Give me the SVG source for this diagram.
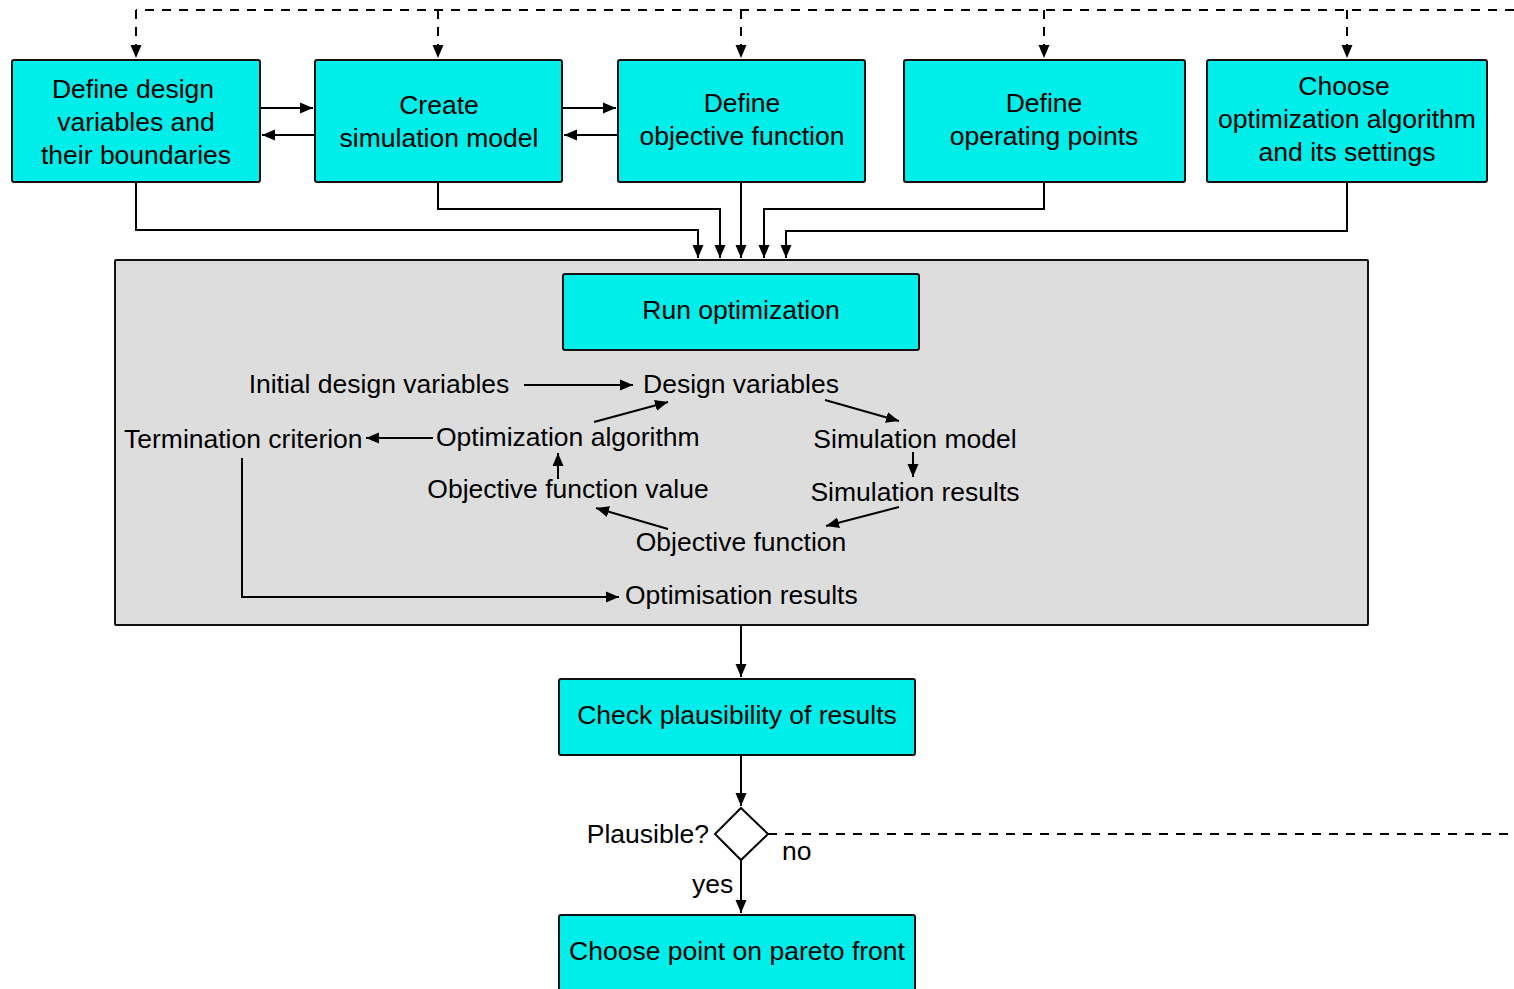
<svg xmlns="http://www.w3.org/2000/svg" width="1514" height="989" viewBox="0 0 1514 989">
<style>
.box{fill:#00EEEA;stroke:#111;stroke-width:2}
.t{font-family:"Liberation Sans",Arial,sans-serif;font-size:26.5px;fill:#000}
.c{text-anchor:middle}
.ln{fill:none;stroke:#000;stroke-width:2}
.dash{fill:none;stroke:#000;stroke-width:2;stroke-dasharray:9 8}
</style>
<defs>
<marker id="ah" markerUnits="userSpaceOnUse" markerWidth="14" markerHeight="12" refX="13" refY="6" orient="auto">
<path d="M0,0.5 L13,6 L0,11.5 z" fill="#000"/>
</marker>
</defs>
<rect width="1514" height="989" fill="#fff"/>

<g id="optimization-area">
<rect x="115" y="260" width="1253" height="365" fill="#DDDDDD" stroke="#111" stroke-width="2" rx="1"/>
</g>

<g id="n1"><rect class="box" x="12" y="60" width="248" height="122" rx="2"/>
<text class="t c" x="133" y="98">Define design</text><text class="t c" x="136" y="131">variables and</text><text class="t c" x="136" y="164">their boundaries</text></g>
<g id="n2"><rect class="box" x="315" y="60" width="247" height="122" rx="2"/>
<text class="t c" x="439" y="114">Create</text><text class="t c" x="439" y="147">simulation model</text></g>
<g id="n3"><rect class="box" x="618" y="60" width="247" height="122" rx="2"/>
<text class="t c" x="742" y="112">Define</text><text class="t c" x="742" y="145">objective function</text></g>
<g id="n4"><rect class="box" x="904" y="60" width="281" height="122" rx="2"/>
<text class="t c" x="1044" y="112">Define</text><text class="t c" x="1044" y="145">operating points</text></g>
<g id="n5"><rect class="box" x="1207" y="60" width="280" height="122" rx="2"/>
<text class="t c" x="1344" y="95">Choose</text><text class="t c" x="1347" y="128">optimization algorithm</text><text class="t c" x="1347" y="161">and its settings</text></g>

<g id="run"><rect class="box" x="563" y="274" width="356" height="76" rx="2"/>
<text class="t c" x="741" y="319">Run optimization</text></g>

<g id="inner-labels">
<text class="t c" x="379" y="393">Initial design variables</text>
<text class="t" x="643" y="393">Design variables</text>
<text class="t" x="124" y="448">Termination criterion</text>
<text class="t" x="436" y="446">Optimization algorithm</text>
<text class="t c" x="915" y="448">Simulation model</text>
<text class="t c" x="915" y="501">Simulation results</text>
<text class="t c" x="568" y="498">Objective function value</text>
<text class="t c" x="741" y="551">Objective function</text>
<text class="t" x="625" y="604">Optimisation results</text>
</g>

<g id="check"><rect class="box" x="559" y="679" width="356" height="76" rx="2"/>
<text class="t c" x="737" y="724">Check plausibility of results</text></g>

<g id="decision"><path d="M741,808 L768,834 L741,860 L715,834 z" fill="#fff" stroke="#000" stroke-width="2"/>
<text class="t" x="709" y="843" text-anchor="end">Plausible?</text></g>

<g id="choose"><rect class="box" x="559" y="915" width="356" height="80" rx="2"/>
<text class="t c" x="737" y="960">Choose point on pareto front</text></g>

<g id="connectors">
<path class="dash" d="M1514,10 H136"/>
<path class="dash" d="M136,10 V58" marker-end="url(#ah)"/>
<path class="dash" d="M438,10 V58" marker-end="url(#ah)"/>
<path class="dash" d="M741,10 V58" marker-end="url(#ah)"/>
<path class="dash" d="M1044,10 V58" marker-end="url(#ah)"/>
<path class="dash" d="M1347,10 V58" marker-end="url(#ah)"/>

<path class="ln" d="M261,108 H313" marker-end="url(#ah)"/>
<path class="ln" d="M314,135 H262" marker-end="url(#ah)"/>
<path class="ln" d="M563,108 H616" marker-end="url(#ah)"/>
<path class="ln" d="M617,135 H564" marker-end="url(#ah)"/>

<path class="ln" d="M136,183 V230 H698 V258" marker-end="url(#ah)"/>
<path class="ln" d="M438,183 V209 H720 V258" marker-end="url(#ah)"/>
<path class="ln" d="M741,183 V258" marker-end="url(#ah)"/>
<path class="ln" d="M1044,183 V209 H764 V258" marker-end="url(#ah)"/>
<path class="ln" d="M1347,183 V231 H786 V258" marker-end="url(#ah)"/>

<path class="ln" d="M524,385 H633" marker-end="url(#ah)"/>
<path class="ln" d="M433,438 H366" marker-end="url(#ah)"/>
<path class="ln" d="M594,422 L668,402" marker-end="url(#ah)"/>
<path class="ln" d="M825,400 L899,421" marker-end="url(#ah)"/>
<path class="ln" d="M913,452 V477" marker-end="url(#ah)"/>
<path class="ln" d="M899,507 L826,526" marker-end="url(#ah)"/>
<path class="ln" d="M668,529 L596,508" marker-end="url(#ah)"/>
<path class="ln" d="M558,479 V453" marker-end="url(#ah)"/>
<path class="ln" d="M242,458 V597 H619" marker-end="url(#ah)"/>

<path class="ln" d="M741,626 V677" marker-end="url(#ah)"/>
<path class="ln" d="M741,756 V806" marker-end="url(#ah)"/>
<path class="ln" d="M741,860 V913" marker-end="url(#ah)"/>
<path class="dash" d="M768,834 H1514"/>
<text class="t" x="782" y="860">no</text>
<text class="t" x="692" y="893">yes</text>
</g>
</svg>
